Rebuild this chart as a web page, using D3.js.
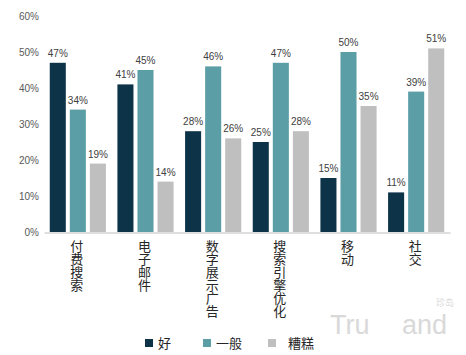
<!DOCTYPE html>
<html>
<head>
<meta charset="utf-8">
<script src="https://cdn.jsdelivr.net/npm/d3@7"></script>
<style>
  body { margin: 0; background: #fff; }
  svg { display: block; font-family: "Liberation Sans", Arial, sans-serif; }
</style>
</head>
<body>
<div id="chart"></div>
<script>
const categories = ["付费搜索", "电子邮件", "数字展示广告", "搜索引擎优化", "移动", "社交"];
const seriesNames = ["好", "一般", "糟糕"];
const good = [47, 41, 28, 25, 15, 11];
const average = [34, 45, 46, 47, 50, 39];
const bad = [19, 14, 26, 28, 35, 51];
const yTicks = [0, 10, 20, 30, 40, 50, 60];

const series = [good, average, bad];
const colors = ["#0d3349", "#5b9ea6", "#bfbfbf"];

const width = 466, height = 355;
const svg = d3.select("#chart").append("svg")
    .attr("width", width)
    .attr("height", height);

// scales
const x0 = d3.scaleBand()
    .domain(categories)
    .range([44, 450])
    .paddingInner(0.17)
    .paddingOuter(0.085);

const x1 = d3.scaleBand()
    .domain(seriesNames)
    .range([0, x0.bandwidth()])
    .paddingInner(0.2);

const y = d3.scaleLinear()
    .domain([0, 60])
    .range([232, 16]);

// y axis labels (no line)
svg.append("g")
    .attr("transform", "translate(39,0)")
    .call(d3.axisLeft(y).tickValues(yTicks).tickSize(0).tickPadding(0).tickFormat(d => d + "%"))
    .call(g => g.select(".domain").remove())
    .call(g => g.selectAll("text")
        .attr("fill", "#595959")
        .style("font-size", "10px"));

// bars
const groups = svg.append("g").selectAll("g")
    .data(categories)
    .join("g")
    .attr("transform", d => `translate(${x0(d)},0)`);

groups.selectAll("rect")
    .data((d, i) => series.map((s, j) => ({ key: seriesNames[j], value: s[i], j })))
    .join("rect")
    .attr("x", d => x1(d.key))
    .attr("y", d => y(d.value))
    .attr("width", x1.bandwidth())
    .attr("height", d => y(0) - y(d.value))
    .attr("fill", d => colors[d.j]);

groups.selectAll("text.val")
    .data((d, i) => series.map((s, j) => ({ key: seriesNames[j], value: s[i] })))
    .join("text")
    .attr("class", "val")
    .attr("x", d => x1(d.key) + x1.bandwidth() / 2)
    .attr("y", d => y(d.value) - 6)
    .attr("text-anchor", "middle")
    .attr("fill", "#404040")
    .style("font-size", "10px")
    .text(d => d.value + "%");

// x axis line
svg.append("g")
    .attr("transform", `translate(0,${y(0) + 0.5})`)
    .call(d3.axisBottom(x0).tickSize(0).tickFormat(""))
    .call(g => g.select(".domain").attr("stroke", "#bfbfbf"));

// vertical category labels
const catFont = "\"Noto Sans CJK SC\", sans-serif";
groups.append("text")
    .attr("x", x1("一般") + x1.bandwidth() / 2 - 1)
    .attr("y", 240)
    .attr("fill", "#262626")
    .style("font-size", "13px")
    .style("font-family", catFont)
    .style("writing-mode", "vertical-rl")
    .style("text-orientation", "upright")
    .text(d => d);

// legend
const legendX = [145, 203, 268];
const legendTextX = [158, 216, 288];
const legend = svg.append("g");
seriesNames.forEach((name, i) => {
    legend.append("rect")
        .attr("x", legendX[i])
        .attr("y", 339)
        .attr("width", 8)
        .attr("height", 8)
        .attr("fill", colors[i]);
    legend.append("text")
        .attr("x", legendTextX[i])
        .attr("y", 348)
        .attr("fill", "#262626")
        .style("font-size", "13px")
        .style("font-family", catFont)
        .text(name);
});

// watermark
svg.append("text")
    .attr("x", 330)
    .attr("y", 334)
    .attr("fill", "#d9d9d9")
    .style("font-size", "27px")
    .text("Tru");
svg.append("text")
    .attr("x", 402)
    .attr("y", 334)
    .attr("fill", "#d9d9d9")
    .style("font-size", "27px")
    .text("and");
svg.append("text")
    .attr("x", 436)
    .attr("y", 306)
    .attr("fill", "#d9d9d9")
    .style("font-size", "9px")
    .style("font-family", catFont)
    .text("珍岛");
</script>
</body>
</html>
